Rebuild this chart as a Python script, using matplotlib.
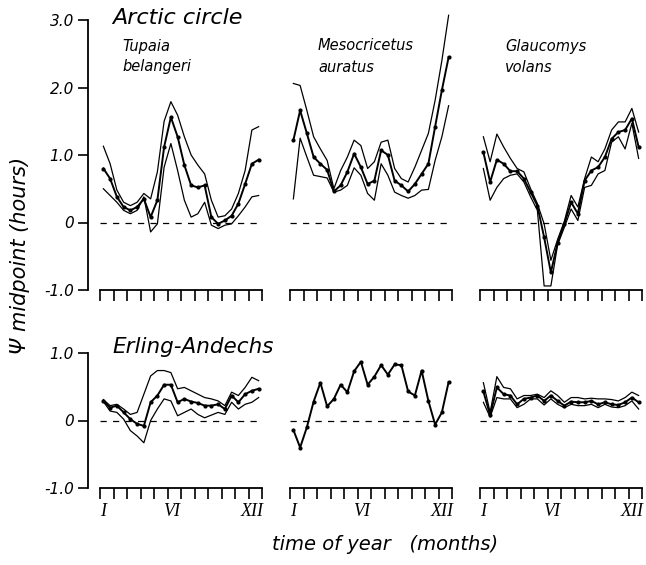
import matplotlib
matplotlib.use('Agg')
import matplotlib.pyplot as plt
import numpy as np

W, H = 646, 565

# semi-monthly sampling points (month units, 0..12)
months = np.arange(24) * 0.5 + 0.25

# ---------- Arctic circle ----------
tupaia_arctic_upper = [1.13, 0.87, 0.48, 0.30, 0.25, 0.30, 0.43, 0.35, 0.75, 1.50, 1.79, 1.59,
                       1.27, 1.00, 0.85, 0.72, 0.33, 0.08, 0.10, 0.20, 0.43, 0.77, 1.37, 1.42]
tupaia_arctic_mean = [0.80, 0.65, 0.38, 0.23, 0.18, 0.23, 0.35, 0.08, 0.33, 1.12, 1.56, 1.27,
                      0.85, 0.55, 0.52, 0.55, 0.08, -0.02, 0.03, 0.10, 0.28, 0.57, 0.87, 0.93]
tupaia_arctic_lower = [0.50, 0.40, 0.30, 0.18, 0.13, 0.18, 0.38, -0.14, -0.02, 0.82, 1.17, 0.77,
                       0.33, 0.08, 0.13, 0.30, -0.04, -0.09, -0.04, -0.02, 0.10, 0.23, 0.38, 0.40]

meso_arctic_upper = [2.06, 2.03, 1.66, 1.27, 1.09, 0.92, 0.50, 0.77, 0.97, 1.22, 1.14, 0.80,
                     0.90, 1.19, 1.22, 0.80, 0.65, 0.60, 0.82, 1.07, 1.32, 1.81, 2.40, 3.07]
meso_arctic_mean = [1.22, 1.66, 1.32, 0.97, 0.87, 0.78, 0.46, 0.55, 0.75, 1.02, 0.82, 0.57,
                    0.62, 1.07, 1.00, 0.62, 0.55, 0.46, 0.57, 0.72, 0.87, 1.42, 1.96, 2.45]
meso_arctic_lower = [0.35, 1.25, 0.97, 0.70, 0.68, 0.66, 0.45, 0.48, 0.55, 0.81, 0.70, 0.43,
                     0.33, 0.87, 0.70, 0.45, 0.40, 0.36, 0.40, 0.48, 0.49, 0.92, 1.27, 1.73]

glauc_arctic_upper = [1.27, 0.90, 1.31, 1.12, 0.95, 0.80, 0.75, 0.50, 0.28, -0.02, -0.56, -0.25,
                      0.02, 0.40, 0.23, 0.65, 0.97, 0.90, 1.09, 1.37, 1.49, 1.49, 1.69, 1.34]
glauc_arctic_mean = [1.04, 0.60, 0.93, 0.87, 0.76, 0.76, 0.65, 0.45, 0.25, -0.22, -0.74, -0.30,
                     -0.02, 0.30, 0.13, 0.62, 0.77, 0.82, 0.97, 1.24, 1.34, 1.37, 1.54, 1.12]
glauc_arctic_lower = [0.80, 0.33, 0.52, 0.65, 0.70, 0.72, 0.60, 0.38, 0.18, -0.94, -0.94, -0.33,
                      -0.07, 0.20, 0.03, 0.52, 0.55, 0.72, 0.77, 1.19, 1.27, 1.09, 1.47, 0.95]

# ---------- Erling-Andechs ----------
tupaia_erling_upper = [0.31, 0.22, 0.24, 0.17, 0.09, 0.12, 0.39, 0.66, 0.74, 0.74, 0.71, 0.47,
                       0.49, 0.44, 0.39, 0.34, 0.32, 0.29, 0.22, 0.42, 0.37, 0.49, 0.64, 0.59]
tupaia_erling_mean = [0.29, 0.19, 0.22, 0.12, 0.02, -0.05, -0.08, 0.27, 0.37, 0.53, 0.53, 0.27,
                      0.32, 0.28, 0.26, 0.22, 0.22, 0.24, 0.17, 0.37, 0.27, 0.39, 0.44, 0.47]
tupaia_erling_lower = [0.28, 0.14, 0.12, 0.02, -0.15, -0.23, -0.33, 0.00, 0.17, 0.32, 0.29, 0.07,
                       0.12, 0.17, 0.09, 0.04, 0.08, 0.12, 0.09, 0.27, 0.17, 0.24, 0.27, 0.34]

meso_erling_mean = [-0.14, -0.40, -0.10, 0.28, 0.56, 0.21, 0.32, 0.53, 0.42, 0.73, 0.87, 0.53,
                    0.65, 0.82, 0.68, 0.83, 0.82, 0.43, 0.37, 0.74, 0.29, -0.06, 0.12, 0.57]

glauc_erling_upper = [0.56, 0.12, 0.65, 0.49, 0.47, 0.32, 0.37, 0.37, 0.39, 0.34, 0.44, 0.37,
                      0.27, 0.34, 0.34, 0.32, 0.33, 0.32, 0.32, 0.31, 0.29, 0.34, 0.42, 0.37]
glauc_erling_mean = [0.43, 0.08, 0.49, 0.39, 0.37, 0.24, 0.32, 0.34, 0.37, 0.29, 0.37, 0.29,
                     0.22, 0.28, 0.27, 0.27, 0.29, 0.24, 0.27, 0.24, 0.23, 0.27, 0.34, 0.27]
glauc_erling_lower = [0.27, 0.05, 0.34, 0.32, 0.32, 0.19, 0.24, 0.32, 0.32, 0.23, 0.32, 0.24,
                      0.19, 0.24, 0.22, 0.22, 0.24, 0.19, 0.24, 0.20, 0.19, 0.22, 0.29, 0.17]

species = [("Tupaia", "belangeri"), ("Mesocricetus", "auratus"), ("Glaucomys", "volans")]
month_labels = ["I", "VI", "XII"]
month_label_pos = [0.2, 5.3, 11.3]
ytick_top = [3, 2, 1, 0, -1]
ytick_top_labels = ["3.0", "2.0", "1.0", "0", "-1.0"]
ytick_bot = [1, 0, -1]
ytick_bot_labels = ["1.0", "0", "-1.0"]

SANS = ['DejaVu Sans']

fig = plt.figure(figsize=(W / 100, H / 100), dpi=100)

panel_left = [100, 290, 480]
panel_w = 162
rows = [  # (top_px, bottom_px, ylim)
    (20, 290, (-1, 3)),
    (353, 488, (-1, 1)),
]


def make_panel(col, row):
    top, bot, ylim = rows[row]
    ax = fig.add_axes([panel_left[col] / W, 1 - bot / H, panel_w / W, (bot - top) / H])
    ax.set_xlim(0, 12)
    ax.set_ylim(*ylim)
    for s in ['top', 'right', 'left']:
        ax.spines[s].set_visible(False)
    ax.spines['bottom'].set_linewidth(1.3)
    ax.set_xticks(np.arange(13))
    ax.tick_params(axis='x', direction='out', length=8, width=1.2, labelbottom=False)
    ax.set_yticks([])
    ax.patch.set_alpha(0)
    ax.axhline(0, ls=(0, (5, 5)), lw=0.9, color='k')
    return ax


def draw(ax, mean, upper=None, lower=None):
    if upper is not None:
        ax.plot(months, upper, color='k', lw=0.9, clip_on=False)
    if lower is not None:
        ax.plot(months, lower, color='k', lw=0.9, clip_on=False)
    ax.plot(months, mean, color='k', lw=1.4, marker='o', ms=2.0, clip_on=False)


data_top = [
    (tupaia_arctic_mean, tupaia_arctic_upper, tupaia_arctic_lower),
    (meso_arctic_mean, meso_arctic_upper, meso_arctic_lower),
    (glauc_arctic_mean, glauc_arctic_upper, glauc_arctic_lower),
]
data_bot = [
    (tupaia_erling_mean, tupaia_erling_upper, tupaia_erling_lower),
    (meso_erling_mean, None, None),
    (glauc_erling_mean, glauc_erling_upper, glauc_erling_lower),
]

for c in range(3):
    ax = make_panel(c, 0)
    draw(ax, *data_top[c])
    ax2 = make_panel(c, 1)
    draw(ax2, *data_bot[c])
    for lab, pos in zip(month_labels, month_label_pos):
        ax2.annotate(lab, xy=(pos, -1), xycoords='data', xytext=(0, -11),
                     textcoords='offset points', ha='center', va='top',
                     family=['Liberation Serif', 'DejaVu Serif'], style='italic', fontsize=13)

# y axes
for row, (ticks, labels) in enumerate([(ytick_top, ytick_top_labels), (ytick_bot, ytick_bot_labels)]):
    top, bot, ylim = rows[row]
    yax = fig.add_axes([88 / W, 1 - bot / H, 0.0001, (bot - top) / H])
    yax.set_ylim(*ylim)
    for s in ['top', 'right', 'bottom']:
        yax.spines[s].set_visible(False)
    yax.spines['left'].set_linewidth(1.3)
    yax.set_xticks([])
    yax.set_yticks(ticks)
    yax.set_yticklabels(labels, family=SANS, style='italic', fontsize=11)
    yax.tick_params(axis='y', direction='out', length=7, width=1.2, pad=3)
    yax.patch.set_alpha(0)

# texts
fig.text(112 / W, 1 - 18 / H, "Arctic circle", family=SANS, style='italic', fontsize=16,
         va='center', ha='left')
fig.text(112 / W, 1 - 347 / H, "Erling-Andechs", family=SANS, style='italic', fontsize=15.5,
         va='center', ha='left')
sp_x = [122, 318, 505]
for (g, s), x in zip(species, sp_x):
    fig.text(x / W, 1 - 46 / H, g, family=SANS, style='italic', fontsize=10.5, va='center', ha='left')
    fig.text(x / W, 1 - 67 / H, s, family=SANS, style='italic', fontsize=10.5, va='center', ha='left')

fig.text(20 / W, 1 - 255 / H, "Ψ midpoint (hours)", family=SANS, style='italic', fontsize=15,
         rotation=90, va='center', ha='center')
fig.text(385 / W, 1 - 545 / H, "time of year   (months)", family=SANS, style='italic', fontsize=14,
         va='center', ha='center')

fig.savefig('out.png', dpi=100)
